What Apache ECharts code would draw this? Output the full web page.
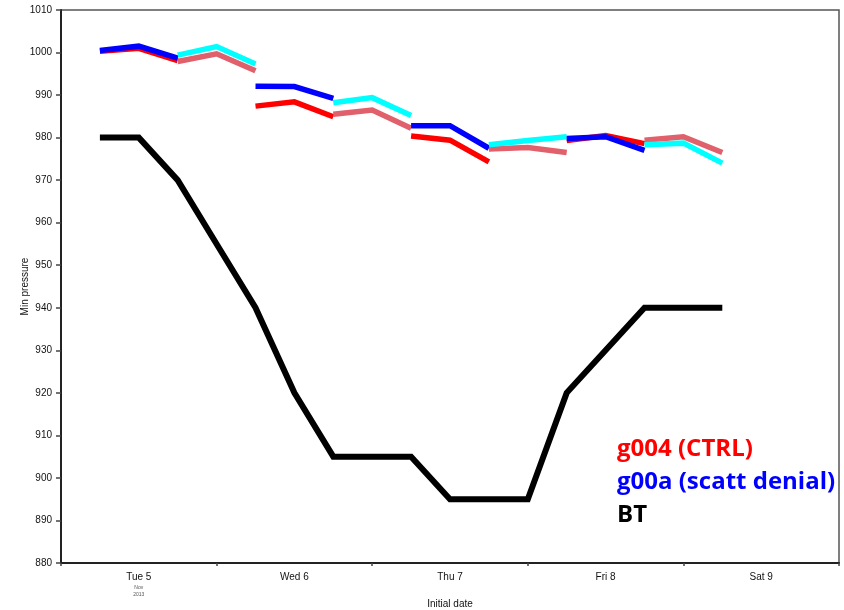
<!DOCTYPE html>
<html>
<head>
<meta charset="utf-8">
<title>Min pressure by initial date</title>
<script src="https://cdn.jsdelivr.net/npm/echarts@6/dist/echarts.min.js"></script>
<style>
  html, body { margin: 0; padding: 0; background: #ffffff; }
  #chart { width: 844px; height: 610px; }
</style>
</head>
<body>
<div id="chart"></div>
<script>
// Time is counted in 6-hour steps from 00Z Tue 5 Nov 2013.
const dayLabels = ['Tue 5', 'Wed 6', 'Thu 7', 'Fri 8', 'Sat 9'];
const dayLabelSteps = [2, 6, 10, 14, 18];
const dayBoundarySteps = [0, 4, 8, 12, 16, 20];

// Best track minimum pressure (hPa)
const btSteps = [1, 2, 3, 4, 5, 6, 7, 8, 9, 10, 11, 12, 13, 14, 15, 16, 17];
const btValues = [980, 980, 970, 955, 940, 920, 905, 905, 905, 895, 895, 895, 920, 930, 940, 940, 940];

// Forecast runs: each run covers three 6-hourly points from its start step
const runStartSteps = [1, 3, 5, 7, 9, 11, 13, 15];
const ctrlRuns = [
  [1000.3, 1001.0, 998.1],
  [997.9, 999.7, 995.7],
  [987.4, 988.4, 984.9],
  [985.5, 986.5, 982.2],
  [980.4, 979.4, 974.3],
  [977.3, 977.7, 976.5],
  [979.3, 980.5, 978.6],
  [979.4, 980.2, 976.5]
];
const denialRuns = [
  [1000.5, 1001.5, 998.7],
  [999.4, 1001.4, 997.3],
  [992.1, 992.0, 989.2],
  [988.2, 989.4, 985.2],
  [982.8, 982.8, 977.5],
  [978.3, 979.3, 980.2],
  [979.8, 980.2, 977.0],
  [978.3, 978.7, 974.0]
];

// Legend entries
const legendLabels = ['g004 (CTRL)', 'g00a (scatt denial)', 'BT'];

// Alternate runs are drawn in alternate shades
const ctrlColors = ['#ff0000', '#e0606c'];
const denialColors = ['#0000ff', '#00ffff'];
const legendColors = ['#ff0000', '#0000ff', '#000000'];
const runLineWidth = 5.5;

const axisFont = 'Liberation Sans, Arial, sans-serif';
const legendFont = 'bold 24px "Open Sans", Lato, sans-serif';

function runSeries(runs, colors, prefix) {
  return runs.map(function (vals, i) {
    const start = runStartSteps[i];
    return {
      name: prefix + ' ' + i,
      type: 'line',
      symbol: 'none',
      silent: true,
      lineStyle: { color: colors[i % 2], width: runLineWidth, cap: 'butt', join: 'miter' },
      data: vals.map(function (v, k) { return [start + k, v]; })
    };
  });
}

const series = []
  .concat(runSeries(ctrlRuns, ctrlColors, 'g004'))
  .concat(runSeries(denialRuns, denialColors, 'g00a'))
  .concat([{
    name: 'BT',
    type: 'line',
    symbol: 'none',
    silent: true,
    lineStyle: { color: '#000000', width: 6, cap: 'butt', join: 'miter' },
    data: btSteps.map(function (s, i) { return [s, btValues[i]]; })
  }]);

// Legend text lines, stacked in the lower right of the plot
const legendTops = [437, 470, 503];
const legendGraphics = legendLabels.map(function (txt, i) {
  return {
    type: 'text',
    x: 617,
    y: legendTops[i],
    style: { text: txt, fill: legendColors[i], font: legendFont, verticalAlign: 'top', align: 'left' }
  };
});

const chart = echarts.init(document.getElementById('chart'), null, { renderer: 'canvas' });

chart.setOption({
  backgroundColor: '#ffffff',
  animation: false,
  grid: {
    left: 61, right: 5, top: 10, bottom: 47,
    outerBoundsMode: 'none',
    containLabel: false,
    show: true, borderColor: '#555555', borderWidth: 1.5, backgroundColor: 'transparent'
  },
  xAxis: {
    type: 'value',
    min: 0, max: 20, interval: 4,
    name: 'Initial date',
    nameLocation: 'middle',
    nameGap: 36,
    nameMoveOverlap: false,
    nameTextStyle: { fontFamily: axisFont, fontSize: 10, color: '#111' },
    axisLine: { show: true, lineStyle: { color: '#222', width: 2 } },
    axisTick: { show: true, customValues: dayBoundarySteps, length: 3, lineStyle: { color: '#444', width: 1.5 } },
    splitLine: { show: false },
    axisLabel: {
      customValues: dayLabelSteps,
      margin: 8,
      fontFamily: axisFont, fontSize: 10, color: '#111',
      formatter: function (v) {
        const idx = dayLabelSteps.indexOf(v);
        const label = idx >= 0 ? dayLabels[idx] : '';
        if (idx === 0) return '{d|' + label + '}\n{s|Nov}\n{s|2013}';
        return '{d|' + label + '}';
      },
      rich: {
        d: { fontFamily: axisFont, fontSize: 10, color: '#111', lineHeight: 13 },
        s: { fontFamily: axisFont, fontSize: 5, color: '#555', lineHeight: 7, align: 'center' }
      }
    }
  },
  yAxis: {
    type: 'value',
    min: 880, max: 1010, interval: 10,
    name: 'Min pressure',
    nameLocation: 'middle',
    nameGap: 31,
    nameMoveOverlap: false,
    nameTextStyle: { fontFamily: axisFont, fontSize: 10, color: '#111' },
    axisLine: { show: true, lineStyle: { color: '#222', width: 2 } },
    axisTick: { show: true, length: 5, lineStyle: { color: '#444', width: 1.5 } },
    splitLine: { show: false },
    axisLabel: {
      margin: 9, fontFamily: axisFont, fontSize: 10, color: '#111',
      formatter: function (v) { return String(v); }
    }
  },
  graphic: legendGraphics,
  series: series
});
</script>
</body>
</html>
